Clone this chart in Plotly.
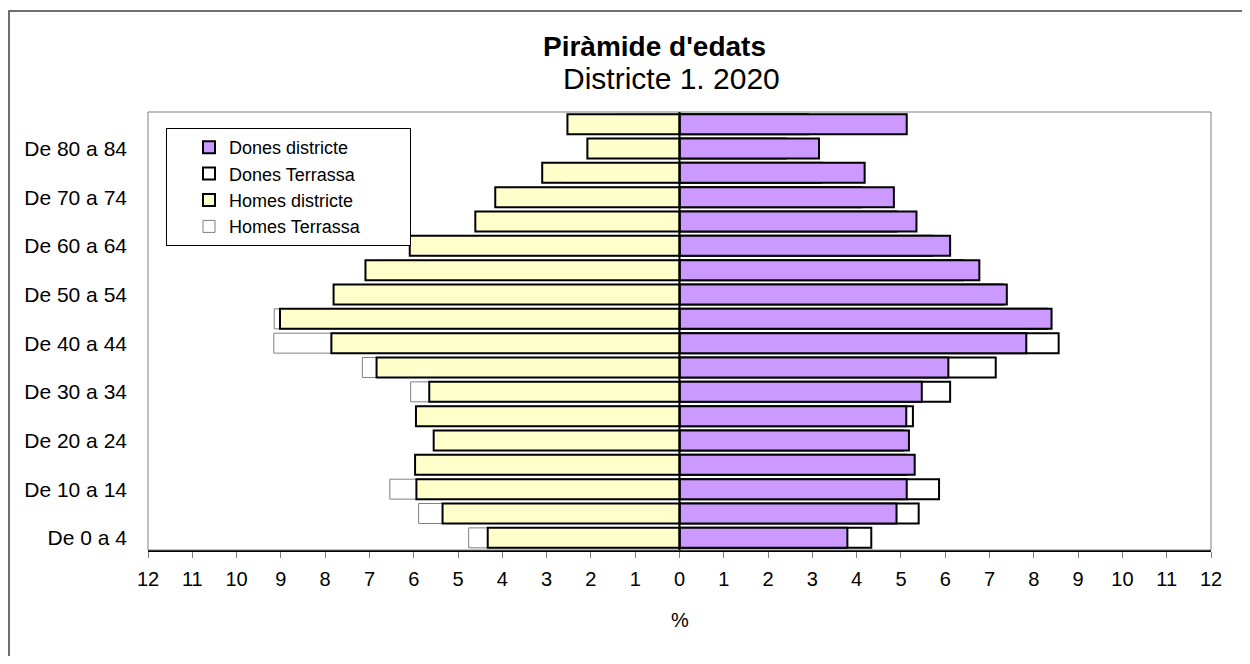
import plotly.graph_objects as go

ages = ["De 0 a 4", "De 5 a 9", "De 10 a 14", "De 15 a 19", "De 20 a 24", "De 25 a 29",
        "De 30 a 34", "De 35 a 39", "De 40 a 44", "De 45 a 49", "De 50 a 54", "De 55 a 59",
        "De 60 a 64", "De 65 a 69", "De 70 a 74", "De 75 a 79", "De 80 a 84", "De 85 i més"]

dones_districte = [3.79, 4.90, 5.13, 5.31, 5.18, 5.12, 5.47, 6.07, 7.83, 8.40, 7.39, 6.77,
                   6.11, 5.35, 4.84, 4.18, 3.15, 5.13]
dones_terrassa = [4.33, 5.40, 5.86, 5.10, 5.05, 5.27, 6.11, 7.14, 8.56, 8.30, 7.30, 6.40,
                  5.70, 4.90, 4.10, 3.20, 2.40, 2.90]
homes_districte = [4.33, 5.35, 5.94, 5.97, 5.55, 5.95, 5.65, 6.84, 7.86, 9.02, 7.81, 7.09,
                   6.09, 4.61, 4.16, 3.10, 2.08, 2.53]
homes_terrassa = [4.76, 5.89, 6.54, 5.80, 5.40, 5.80, 6.07, 7.16, 9.16, 9.15, 7.70, 6.70,
                  5.70, 4.40, 3.60, 2.60, 1.70, 1.40]

x_ticks = list(range(-12, 13))
x_ticktext = [str(abs(v)) for v in x_ticks]
y_tickvals = ages[0::2]

FONT = "Liberation Sans, Arial, sans-serif"
PAD = "\u00a0" * 9

fig = go.Figure()
fig.add_trace(go.Bar(y=ages, x=dones_terrassa, orientation="h", name="Dones Terrassa",
                     marker=dict(color="white", line=dict(color="black", width=2)),
                     legendrank=2))
fig.add_trace(go.Bar(y=ages, x=[-v for v in homes_terrassa], orientation="h",
                     name="Homes Terrassa" + PAD,
                     marker=dict(color="white", line=dict(color="#808080", width=1)),
                     legendrank=4))
fig.add_trace(go.Bar(y=ages, x=dones_districte, orientation="h", name="Dones districte",
                     marker=dict(color="#CC99FF", line=dict(color="black", width=2)),
                     legendrank=1))
fig.add_trace(go.Bar(y=ages, x=[-v for v in homes_districte], orientation="h", name="Homes districte",
                     marker=dict(color="#FFFFCC", line=dict(color="black", width=2)),
                     legendrank=3))

# page body has an 8px margin: figure coords = screen coords - 8
OFF = 8
W, H = 1242, 648
L, T = 148 - OFF, 112 - OFF
PR, PB = 1211 - OFF, 550 - OFF
R, B = W - PR, H - PB
pw, ph = PR - L, PB - T

def px(xs):
    return (xs - OFF - L) / pw

def py(ys):
    return (PB - (ys - OFF)) / ph

fig.update_layout(
    width=W, height=H,
    margin=dict(l=L, r=R, t=T, b=B, autoexpand=False),
    paper_bgcolor="white", plot_bgcolor="white",
    barmode="overlay", bargap=0.18,
    font=dict(family=FONT, size=19, color="black"),
    showlegend=True,
    legend=dict(x=px(166), y=py(128), xanchor="left", yanchor="top",
                bgcolor="white", bordercolor="black", borderwidth=1,
                font=dict(size=18), traceorder="normal", indentation=22,
                itemclick=False),
    xaxis=dict(range=[-12, 12], tickvals=x_ticks, ticktext=x_ticktext,
               ticks="outside", ticklen=6, tickcolor="#808080", tickwidth=1,
               showline=True, linecolor="black", linewidth=1.5,
               showgrid=False, zeroline=False, fixedrange=True,
               ticklabelstandoff=4, tickfont=dict(size=20)),
    yaxis=dict(type="category", categoryorder="array", categoryarray=ages,
               range=[-0.5, 17.5], tickvals=y_tickvals, ticktext=y_tickvals,
               ticks="", showline=False, showgrid=False, zeroline=False,
               ticklabelstandoff=20, tickfont=dict(size=21), fixedrange=True),
    shapes=[
        dict(type="rect", xref="paper", yref="paper", x0=0, x1=1, y0=0, y1=1,
             line=dict(color="#808080", width=1), layer="above"),
        dict(type="line", xref="x", yref="paper", x0=0, x1=0, y0=0, y1=1,
             line=dict(color="black", width=2), layer="above"),
        dict(type="rect", xref="paper", yref="paper",
             x0=px(9), x1=px(1270), y0=py(690), y1=py(11),
             line=dict(color="#404040", width=1.5), layer="below"),
    ],
    annotations=[
        dict(text="<b>Piràmide d'edats</b>", xref="paper", yref="paper",
             x=px(654), y=py(46), xanchor="center", yanchor="middle",
             showarrow=False, font=dict(size=28)),
        dict(text="Districte 1. 2020", xref="paper", yref="paper",
             x=px(671), y=py(79), xanchor="center", yanchor="middle",
             showarrow=False, font=dict(size=30)),
        dict(text="%", xref="x", yref="paper", x=0, y=py(620),
             xanchor="center", yanchor="middle", showarrow=False,
             font=dict(size=20)),
    ],
)

fig.write_html("out.html")
